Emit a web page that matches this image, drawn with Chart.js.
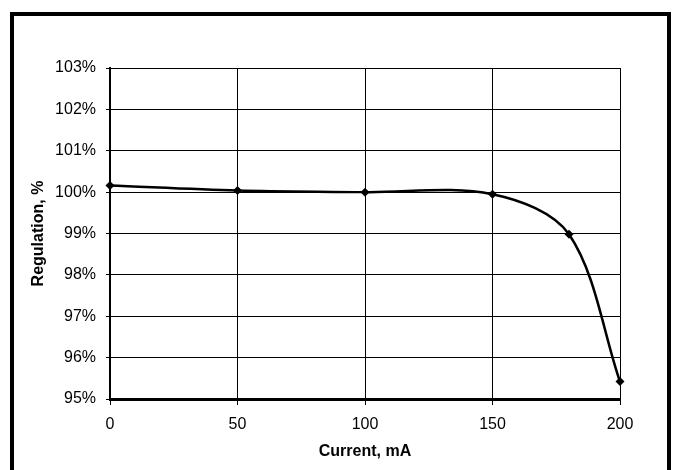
<!DOCTYPE html>
<html>
<head>
<meta charset="utf-8">
<script src="https://cdn.jsdelivr.net/npm/chart.js@4/dist/chart.umd.min.js"></script>
<style>
  html, body { margin: 0; padding: 0; background: #fff; }
  #wrap { position: relative; width: 681px; height: 470px; }
</style>
</head>
<body>
<div id="wrap"><canvas id="regChart" width="681" height="470"></canvas></div>
<script>
// data
const currentMA = [0, 50, 100, 150, 180, 200];
const regulation = [100.16, 100.04, 100.0, 99.95, 98.98, 95.42];
const xTicks = [0, 50, 100, 150, 200];
const yMin = 95, yMax = 103;

// outer frame like the original figure box
const framePlugin = {
    id: 'frame',
    afterDraw(chart) {
        const ctx = chart.ctx;
        ctx.save();
        ctx.strokeStyle = '#000';
        ctx.lineWidth = 4;
        ctx.strokeRect(12, 14, 657, 500);
        ctx.restore();
    }
};

const ctx = document.getElementById('regChart').getContext('2d');
const regChart = new Chart(ctx, {
    type: 'scatter',
    data: {
        datasets: [{
            data: currentMA.map((x, i) => ({ x: x, y: regulation[i] })),
            showLine: true,
            clip: false,
            borderColor: '#000',
            borderWidth: 2.5,
            tension: 0.33,
            pointStyle: 'rectRot',
            pointRadius: 4.5,
            pointBackgroundColor: '#000',
            pointBorderColor: '#000',
            pointBorderWidth: 0
        }]
    },
    options: {
        responsive: false,
        animation: false,
        layout: { padding: { left: 0, right: 61, top: 68, bottom: 0 } },
        plugins: {
            legend: { display: false },
            tooltip: { enabled: false }
        },
        scales: {
            x: {
                type: 'linear',
                min: 0,
                max: 200,
                afterFit: function(scale) { scale.height = 71; },
                afterBuildTicks: function(scale) {
                    scale.ticks = xTicks.map(v => ({ value: v }));
                },
                grid: {
                    color: '#000',
                    lineWidth: 1,
                    tickLength: 6,
                    tickColor: '#000'
                },
                border: { color: '#000', width: 3 },
                ticks: {
                    color: '#000',
                    padding: 10,
                    maxRotation: 0,
                    font: { family: 'Liberation Sans, Arial', size: 16 }
                },
                title: {
                    display: true,
                    text: 'Current, mA',
                    color: '#000',
                    padding: { top: 0, bottom: 9 },
                    font: { family: 'Liberation Sans, Arial', size: 16, weight: 'bold' }
                }
            },
            y: {
                min: yMin,
                max: yMax,
                afterFit: function(scale) { scale.width = 110; },
                grid: {
                    color: '#000',
                    lineWidth: 1,
                    tickLength: 4,
                    tickColor: '#000'
                },
                border: { color: '#000', width: 2 },
                ticks: {
                    stepSize: 1,
                    color: '#000',
                    padding: 10,
                    font: { family: 'Liberation Sans, Arial', size: 16 },
                    callback: function(value) { return value + '%'; }
                },
                title: {
                    display: true,
                    text: 'Regulation, %',
                    color: '#000',
                    padding: { top: 29, bottom: 0 },
                    font: { family: 'Liberation Sans, Arial', size: 16, weight: 'bold' }
                }
            }
        }
    },
    plugins: [framePlugin]
});
</script>
</body>
</html>
